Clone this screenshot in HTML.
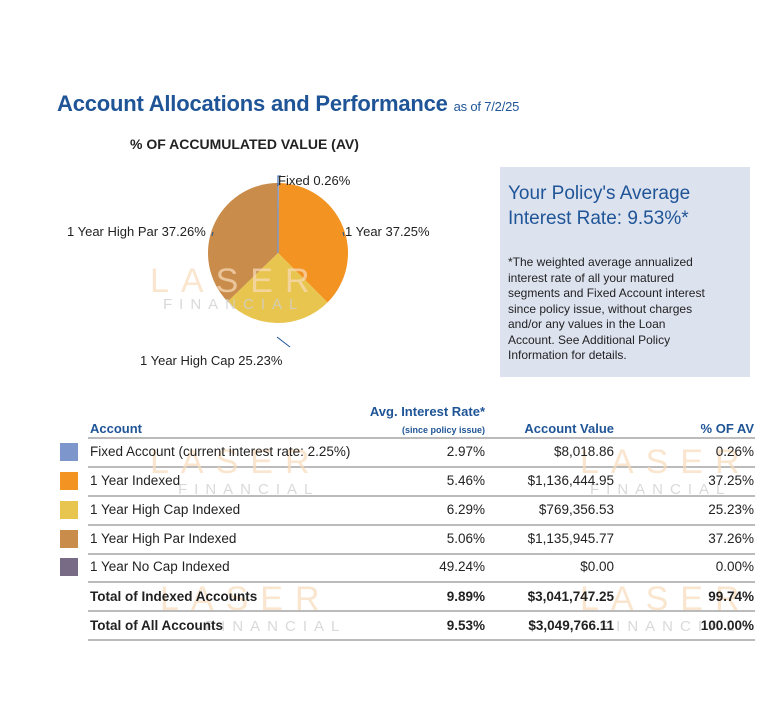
<!DOCTYPE html>
<html><head><meta charset="utf-8"><style>
body{margin:0;width:780px;height:715px;background:#fff;font-family:"Liberation Sans",sans-serif;position:relative;overflow:hidden}
.a{position:absolute;white-space:nowrap}
.r{text-align:right}
.line{position:absolute;left:88px;width:667px;height:2px;background:#bbb}
.sw{position:absolute;left:60px;width:18px;height:18px}
.t{font-size:13px;color:#222}
.wm{position:absolute;color:#f8dcbc;font-size:34px;letter-spacing:12px;opacity:.7}
.wf{position:absolute;color:#d0d0d0;font-size:15px;letter-spacing:7px;opacity:.8}
</style></head><body>
<div class="a" style="left:57px;top:91px;font-size:22px;font-weight:bold;color:#1f5597;letter-spacing:-0.2px">Account Allocations and Performance <span style="font-size:13px;font-weight:normal">as of 7/2/25</span></div>
<div class="a" style="left:130px;top:136px;font-size:14px;font-weight:bold;color:#222">% OF ACCUMULATED VALUE (AV)</div>
<svg class="a" style="left:0;top:0" width="780" height="715">
<path d="M278,253 L278.9,183 A70,70 0 0,1 327.5,302.5 Z" fill="#f39322"/>
<path d="M278,253 L327.5,302.5 A70,70 0 0,1 227.6,301.6 Z" fill="#e8c54e"/>
<path d="M278,253 L227.6,301.6 A70,70 0 0,1 278,183 Z" fill="#c98c4a"/>
<line x1="278" y1="183" x2="278" y2="253" stroke="#7f99c9" stroke-width="1.5"/>
<path d="M278,186 L278,176 L281,176" stroke="#1f5597" fill="none"/>
<line x1="343" y1="232" x2="344" y2="236" stroke="#1f5597"/>
<line x1="213" y1="232" x2="212" y2="236" stroke="#1f5597"/>
<line x1="277" y1="337" x2="290" y2="347" stroke="#1f5597"/>
</svg>
<div class="wm" style="left:150px;top:262px">LASER</div><div class="wf" style="left:163px;top:296px">FINANCIAL</div>
<div class="a t" style="left:278px;top:173px">Fixed 0.26%</div>
<div class="a t" style="left:345px;top:224px">1 Year 37.25%</div>
<div class="a t" style="left:67px;top:224px">1 Year High Par 37.26%</div>
<div class="a t" style="left:140px;top:353px">1 Year High Cap 25.23%</div>
<div class="a" style="left:500px;top:167px;width:250px;height:210px;background:#dde2ef"></div>
<div class="a" style="left:508px;top:181px;font-size:19px;color:#1f5597;line-height:25px">Your Policy's Average<br>Interest Rate: 9.53%*</div>
<div class="a" style="left:508px;top:255px;font-size:12px;color:#222;line-height:15.5px">*The weighted average annualized<br>interest rate of all your matured<br>segments and Fixed Account interest<br>since policy issue, without charges<br>and/or any values in the Loan<br>Account. See Additional Policy<br>Information for details.</div>
<div class="a" style="left:300px;top:404px;width:185px;font-size:13px;font-weight:bold;color:#1f5597;text-align:right">Avg. Interest Rate*</div>
<div class="a" style="left:300px;top:425px;width:185px;font-size:9px;font-weight:bold;color:#1f5597;text-align:right">(since policy issue)</div>
<div class="a" style="left:90px;top:421px;font-size:13px;font-weight:bold;color:#1f5597">Account</div>
<div class="a r" style="left:480px;width:134px;top:421px;font-size:13px;font-weight:bold;color:#1f5597">Account Value</div>
<div class="a r" style="left:650px;width:104px;top:421px;font-size:13px;font-weight:bold;color:#1f5597">% OF AV</div>
<div class="line" style="top:437px"></div>
<div class="line" style="top:466px"></div>
<div class="line" style="top:495px"></div>
<div class="line" style="top:524px"></div>
<div class="line" style="top:553px"></div>
<div class="line" style="top:581px"></div>
<div class="line" style="top:610px"></div>
<div class="line" style="top:639px"></div>
<div class="sw" style="top:443px;background:#7d96cb"></div>
<div class="sw" style="top:472px;background:#f39322"></div>
<div class="sw" style="top:501px;background:#e8c54e"></div>
<div class="sw" style="top:530px;background:#c98c4a"></div>
<div class="sw" style="top:558px;background:#776b85"></div>
<div class="wm" style="left:150px;top:443px">LASER</div><div class="wf" style="left:178px;top:481px">FINANCIAL</div>
<div class="wm" style="left:580px;top:443px">LASER</div><div class="wf" style="left:590px;top:481px">FINANCIAL</div>
<div class="wm" style="left:160px;top:580px">LASER</div><div class="wf" style="left:205px;top:618px">FINANCIAL</div>
<div class="wm" style="left:580px;top:580px">LASER</div><div class="wf" style="left:600px;top:618px">FINANCIAL</div>
<div style="position:absolute;left:0;top:0;font-size:13.5px;color:#222">
<div class="a" style="left:90px;top:444px">Fixed Account (current interest rate: 2.25%)</div>
<div class="a" style="left:90px;top:473px">1 Year Indexed</div>
<div class="a" style="left:90px;top:502px">1 Year High Cap Indexed</div>
<div class="a" style="left:90px;top:531px">1 Year High Par Indexed</div>
<div class="a" style="left:90px;top:559px">1 Year No Cap Indexed</div>
<div class="a" style="left:90px;top:589px;font-weight:bold">Total of Indexed Accounts</div>
<div class="a" style="left:90px;top:618px;font-weight:bold">Total of All Accounts</div>
<div class="a r" style="left:385px;width:100px;top:444px">2.97%</div>
<div class="a r" style="left:385px;width:100px;top:473px">5.46%</div>
<div class="a r" style="left:385px;width:100px;top:502px">6.29%</div>
<div class="a r" style="left:385px;width:100px;top:531px">5.06%</div>
<div class="a r" style="left:385px;width:100px;top:559px">49.24%</div>
<div class="a r" style="left:385px;width:100px;top:589px;font-weight:bold">9.89%</div>
<div class="a r" style="left:385px;width:100px;top:618px;font-weight:bold">9.53%</div>
<div class="a r" style="left:480px;width:134px;top:444px">$8,018.86</div>
<div class="a r" style="left:480px;width:134px;top:473px">$1,136,444.95</div>
<div class="a r" style="left:480px;width:134px;top:502px">$769,356.53</div>
<div class="a r" style="left:480px;width:134px;top:531px">$1,135,945.77</div>
<div class="a r" style="left:480px;width:134px;top:559px">$0.00</div>
<div class="a r" style="left:480px;width:134px;top:589px;font-weight:bold">$3,041,747.25</div>
<div class="a r" style="left:480px;width:134px;top:618px;font-weight:bold">$3,049,766.11</div>
<div class="a r" style="left:650px;width:104px;top:444px">0.26%</div>
<div class="a r" style="left:650px;width:104px;top:473px">37.25%</div>
<div class="a r" style="left:650px;width:104px;top:502px">25.23%</div>
<div class="a r" style="left:650px;width:104px;top:531px">37.26%</div>
<div class="a r" style="left:650px;width:104px;top:559px">0.00%</div>
<div class="a r" style="left:650px;width:104px;top:589px;font-weight:bold">99.74%</div>
<div class="a r" style="left:650px;width:104px;top:618px;font-weight:bold">100.00%</div>
</div>
</body></html>
